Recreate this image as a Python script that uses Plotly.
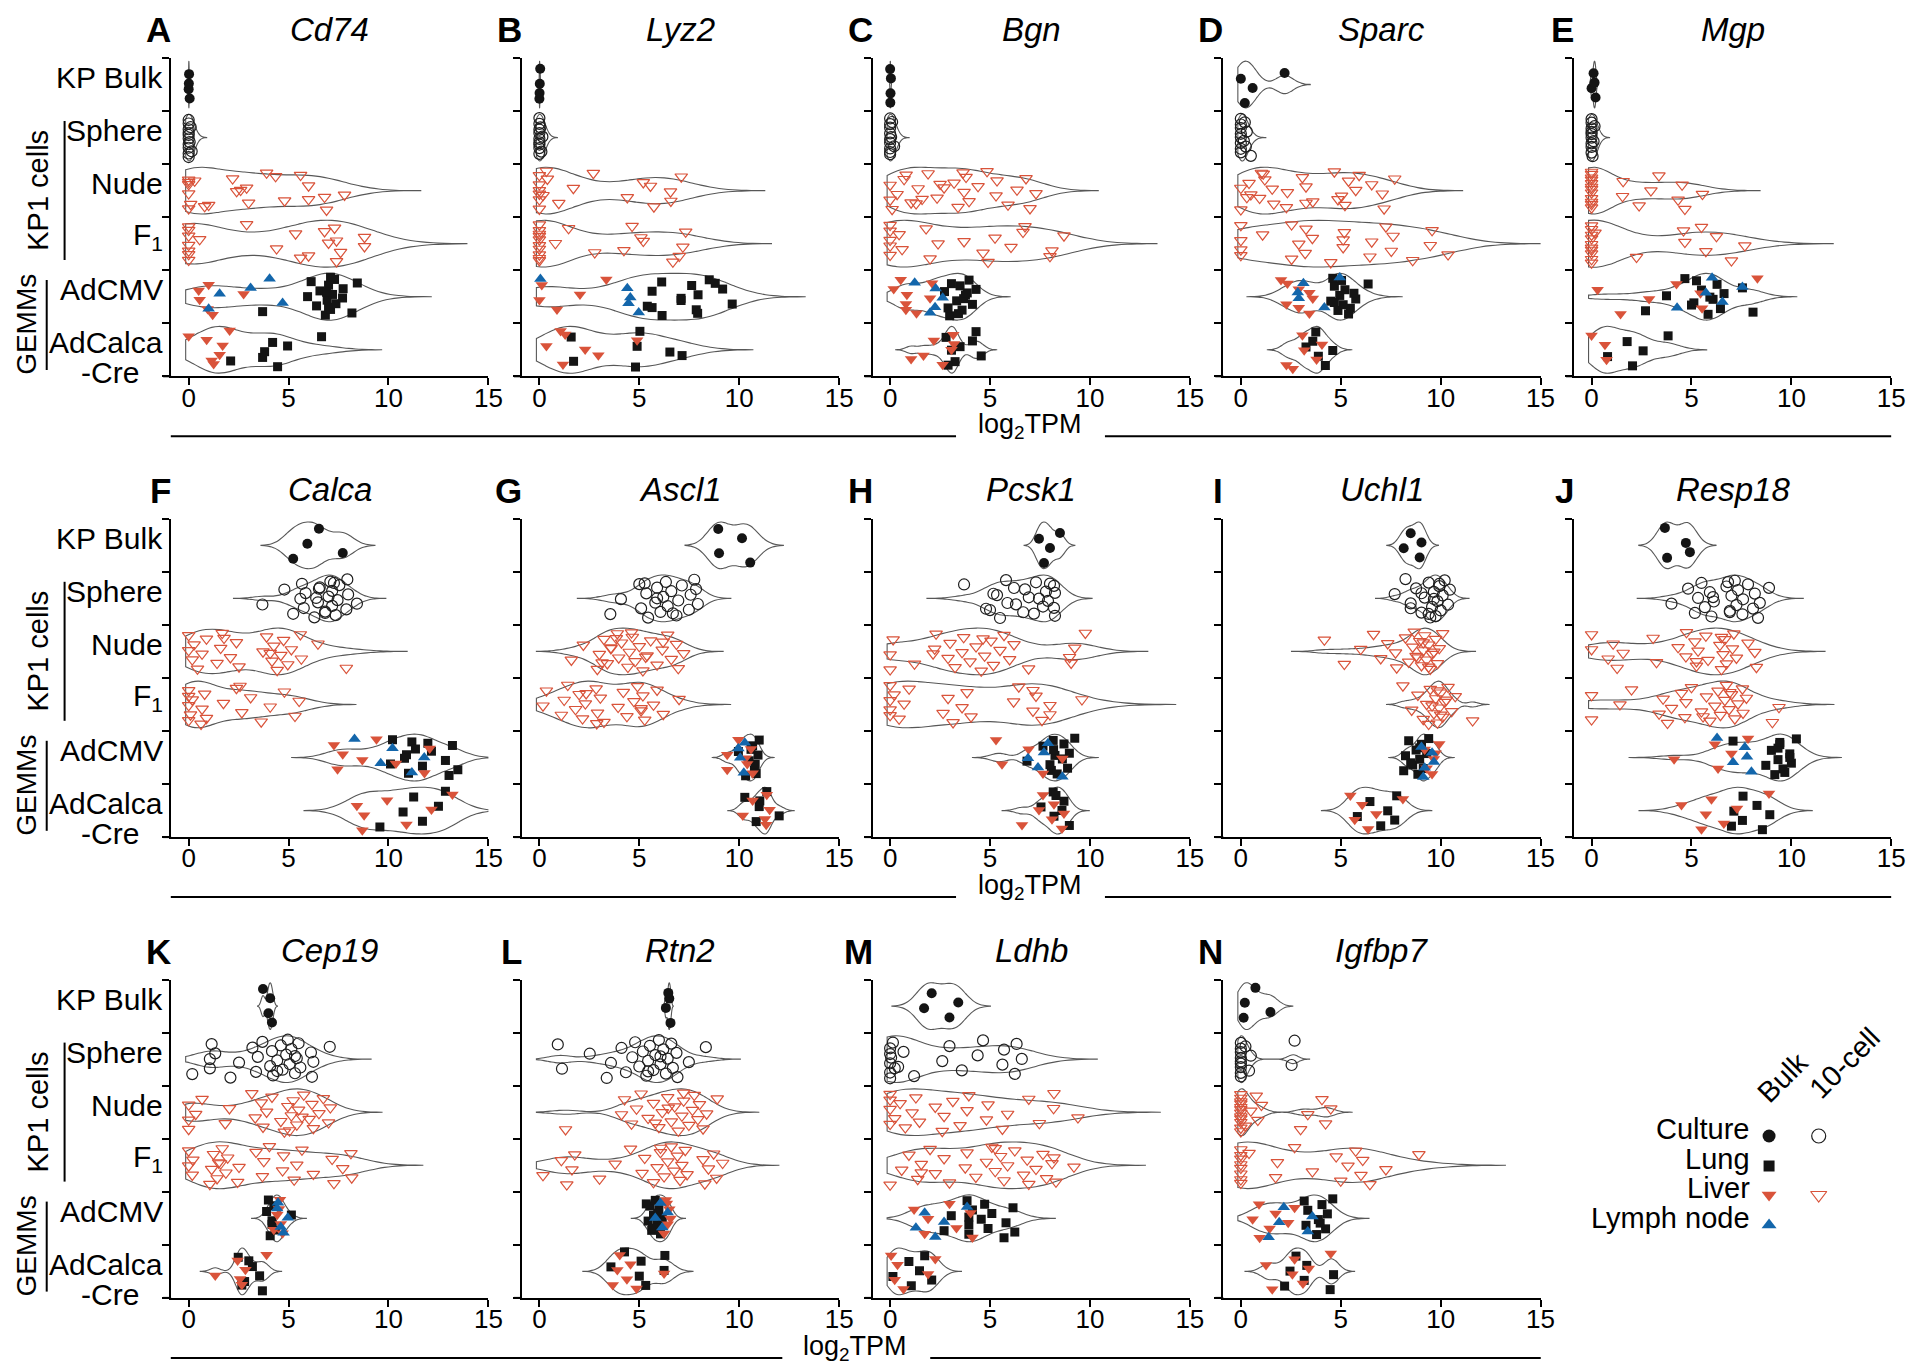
import numpy as np
import plotly.graph_objects as go

W, H = 1920, 1369
FONT = "Liberation Sans, Arial, sans-serif"
RED = "#D9533A"
BLUE = "#1366AB"
BLACK = "#141414"

CATEGORIES = ["KP Bulk", "Sphere", "Nude", "F<sub>1</sub>", "AdCMV", "AdCalca"]
XTICKS = [0, 5, 10, 15]

# ---------------- data (log2 TPM) ----------------
CD74_BULK = [0.0, 0.02, 0.05, 0.01]
CD74_SPHERE = [0, 0, 0, 0, 0, 0, 0, 0, 0, 0, 0.05, 0.1, 0.15]
CD74_NUDE = [0.3, 1.0, 2.6, 5.6, 6.0, 0, 0, 0, 2.2, 3.0, 2.9, 3.9, 6.8, 0, 0.8, 2.4, 4.35, 4.8, 6.0, 6.9, 7.8, 0, 0.1]
CD74_F1 = [0, 0, 0, 0, 0, 0, 0, 0.55, 2.9, 4.4, 5.35, 5.6, 7.0, 7.3, 7.6, 8.8, 7.4, 8.8, 6.8, 6.0, 7.4]
CD74_CMV_LUNG = [3.7, 5.95, 6.13, 6.4, 6.57, 6.84, 6.93, 7.0, 7.1, 7.2, 7.3, 7.37, 7.73, 8.17, 7.7, 8.44, 7.0, 6.9, 7.1]
CD74_CMV_LIVER = [0.5, 1.2, 0.55, 1.0, 0.95, 2.75]
CD74_CMV_LN = [1.0, 1.55, 4.05, 4.7, 3.1]
CD74_CALCA_LUNG = [3.7, 4.2, 4.45, 3.8, 6.65, 2.1, 4.95]
CD74_CALCA_LIVER = [0, 1.15, 1.7, 2.05, 1.55, 0.9, 1.25]

LYZ2_BULK = [0.0, 0.02, 0.04, 0.01]
LYZ2_SPHERE = [0, 0, 0, 0, 0, 0, 0, 0, 0, 0.05, 0.1, 0.15]
LYZ2_NUDE = [0, 0, 0, 0, 0, 0, 0.4, 0.97, 1.7, 2.7, 4.4, 5.2, 5.73, 6.56, 7.1, 6.58, 5.56, 0.35, 0.18]
LYZ2_F1 = [0, 0, 0, 0, 0, 0, 0, 0, 0, 0, 0.8, 1.46, 2.77, 5.08, 6.68, 7.18, 7.32, 7.0, 5.2, 4.64, 4.23]
LYZ2_CMV_LUNG = [6.12, 5.4, 5.64, 6.14, 7.09, 7.62, 7.85, 7.94, 8.5, 9.65, 9.17, 7.92, 7.09, 8.8, 5.64]
LYZ2_CMV_LIVER = [0, 0.12, 0.88, 2.03, 3.35]
LYZ2_CMV_LN = [0.05, 4.46, 4.4, 4.97, 4.55]
LYZ2_CALCA_LUNG = [4.81, 6.53, 1.59, 1.71, 4.89, 5.03, 7.14]
LYZ2_CALCA_LIVER = [0.35, 1.06, 2.95, 4.89, 1.18, 2.29, 1.29]

BGN_BULK = [0.0, 0.02, 0.04, 0.01]
BGN_SPHERE = [0, 0, 0, 0, 0, 0, 0, 0, 0, 0.05, 0.1, 0.2]
BGN_NUDE = [0, 0, 0.1, 0.35, 0.7, 1.3, 1.4, 1.9, 2.35, 3.2, 3.4, 3.7, 3.8, 3.95, 4.4, 4.85, 5.3, 5.35, 5.9, 6.35, 0.8, 1.6, 2.5, 7.0, 7.3, 6.8, 1.05, 2.7, 3.65]
BGN_F1 = [0, 0, 0, 0, 0, 0.6, 0.45, 2.0, 2.4, 1.8, 4.65, 5.25, 4.9, 6.05, 6.65, 8.0, 3.7, 6.75, 8.1, 8.7]
BGN_CMV_LUNG = [2.72, 2.98, 3.33, 3.5, 3.6, 3.77, 3.95, 4.12, 4.3, 3.42, 3.68, 3.07, 2.9, 3.86]
BGN_CMV_LIVER = [0.79, 0.84, 0.53, 0.79, 0.18, 1.32, 2.0, 2.1]
BGN_CMV_LN = [2.28, 2.0, 2.63, 1.23, 2.25]
BGN_CALCA_LUNG = [2.8, 3.25, 3.5, 4.3, 4.56, 4.12, 2.9, 3.07]
BGN_CALCA_LIVER = [1.67, 2.19, 2.63, 3.07, 3.16, 1.05, 3.2]

SPARC_BULK = [0, 0.2, 0.59, 2.19]
SPARC_SPHERE = [0, 0, 0, 0, 0, 0, 0, 0, 0.2, 0.25, 0.3, 0.5, 0.15]
SPARC_NUDE = [0, 0.5, 1.2, 1.65, 1.57, 1.12, 0.94, 0.41, 2.28, 2.33, 3.08, 3.6, 3.26, 4.68, 5.04, 5.39, 5.21, 5.75, 5.92, 4.86, 6.55, 7.17, 7.08, 7.7, 3.26, 0, 1.03, 0.3]
SPARC_F1 = [0, 0, 0, 0, 1.09, 2.54, 2.9, 3.26, 3.22, 3.58, 4.5, 5.12, 5.18, 6.46, 6.55, 7.26, 7.53, 7.62, 8.6, 9.48, 9.57, 10.37, 5.12, 2.54]
SPARC_CMV_LUNG = [4.5, 4.68, 4.86, 4.95, 5.04, 5.12, 5.21, 5.39, 5.75, 6.37, 5.48, 5.66, 4.6, 4.68]
SPARC_CMV_LIVER = [2.01, 2.28, 2.9, 3.43, 3.6, 2.33, 2.9, 3.43]
SPARC_CMV_LN = [2.9, 3.13, 4.18, 2.85, 4.95]
SPARC_CALCA_LUNG = [3.26, 3.75, 3.88, 3.6, 4.23, 4.6]
SPARC_CALCA_LIVER = [2.28, 3.17, 3.08, 3.79, 4.06, 2.6]

MGP_BULK = [0, 0.1, 0.2, 0.15]
MGP_SPHERE = [0, 0, 0, 0, 0, 0, 0, 0, 0, 0.05, 0.1, 0.15]
MGP_NUDE = [0, 0, 0, 0, 0, 0, 0, 0, 0, 0, 0, 0, 1.55, 1.58, 2.38, 2.97, 3.37, 4.33, 4.53, 4.67, 5.55]
MGP_F1 = [0, 0, 0, 0, 0, 0, 0, 0, 0, 0, 0.17, 2.25, 4.67, 5.5, 5.72, 6.25, 7.0, 7.67, 4.6]
MGP_CMV_LUNG = [2.7, 3.75, 5.25, 5.0, 5.5, 5.83, 6.08, 6.28, 6.45, 6.63, 4.67, 5.12, 7.55, 8.08, 5.92]
MGP_CMV_LIVER = [0.3, 1.45, 2.88, 4.25, 5.53, 5.45, 8.3]
MGP_CMV_LN = [4.28, 5.72, 6.03, 6.55, 7.55]
MGP_CALCA_LUNG = [0.8, 1.78, 2.05, 2.58, 3.83]
MGP_CALCA_LIVER = [0, 0.75, 0.67]

CALCA_BULK = [5.23, 5.94, 6.52, 7.71]
CALCA_SPHERE = [3.69, 4.79, 5.23, 5.59, 5.67, 5.76, 5.85, 6.29, 6.47, 6.56, 6.83, 7.0, 7.09, 7.18, 7.18, 7.36, 7.45, 7.54, 7.89, 7.98, 7.94, 8.42, 6.52, 6.83, 6.38, 7.27]
CALCA_NUDE = [0, 0, 0.18, 0.27, 0.44, 0.67, 0.89, 1.42, 1.6, 1.68, 2.09, 2.39, 2.52, 3.72, 3.9, 4.17, 4.26, 4.43, 4.61, 4.75, 4.96, 5.14, 5.59, 5.64, 6.47, 7.89, 4.08, 1.77]
CALCA_F1 = [0, 0, 0, 0, 0.09, 0.18, 0.62, 0.67, 0.8, 0.89, 1.74, 2.39, 2.66, 3.1, 3.63, 4.08, 4.79, 5.32, 5.53, 2.57]
CALCA_CMV_LUNG = [11.17, 11.7, 12.15, 13.03, 12.85, 13.2, 13.47, 10.9, 10.2, 10.1, 11.35, 11.0, 10.8, 11.97]
CALCA_CMV_LIVER = [8.69, 7.27, 7.45, 7.71, 9.4, 10.37, 12.06, 11.8]
CALCA_CMV_LN = [8.3, 9.61, 10.2, 11.17, 11.79]
CALCA_CALCA_LUNG = [9.57, 10.73, 11.26, 11.7, 12.5, 12.85]
CALCA_CALCA_LIVER = [8.42, 8.69, 8.78, 9.93, 10.9, 12.15, 13.2]

ASCL1_BULK = [8.95, 8.99, 10.14, 10.55]
ASCL1_SPHERE = [3.55, 4.08, 5.0, 5.09, 5.35, 5.44, 5.8, 5.89, 6.06, 6.2, 6.33, 6.42, 6.6, 6.86, 6.95, 7.13, 7.48, 7.57, 7.75, 7.93, 7.84, 6.68, 5.89, 5.27]
ASCL1_NUDE = [1.6, 2.2, 2.9, 3.0, 3.23, 3.4, 3.58, 3.9, 3.97, 4.11, 4.43, 4.5, 4.65, 4.79, 5.0, 5.18, 5.39, 5.57, 5.89, 6.15, 6.42, 6.6, 6.86, 6.95, 7.22, 3.85, 3.14, 3.58, 4.61, 5.32, 6.19]
ASCL1_F1 = [0.18, 0.35, 1.1, 1.24, 1.42, 1.81, 1.99, 2.16, 2.3, 2.84, 2.91, 3.05, 3.23, 3.94, 4.2, 4.38, 4.73, 4.91, 5.09, 5.18, 5.27, 5.71, 5.89, 6.2, 6.99, 2.87, 5.09, 2.34]
ASCL1_CMV_LUNG = [9.96, 10.32, 10.5, 10.67, 10.76, 10.94, 11.0, 10.8, 10.59, 10.85]
ASCL1_CMV_LIVER = [9.4, 9.4, 9.96, 10.4, 10.59, 10.67, 10.32]
ASCL1_CMV_LN = [9.96, 10.23, 10.05, 10.28]
ASCL1_CALCA_LUNG = [10.28, 10.85, 11.0, 11.38, 12.0, 11.03]
ASCL1_CALCA_LIVER = [10.18, 10.67, 11.35, 11.52, 11.38, 11.29]

PCSK1_BULK = [7.45, 7.7, 8.0, 8.5]
PCSK1_SPHERE = [3.7, 4.8, 5.17, 5.5, 5.87, 6.2, 6.66, 6.94, 7.3, 7.65, 7.8, 8.25, 7.9, 8.2, 5.0, 5.35, 5.8, 6.3, 6.75, 7.2, 7.45, 8.0, 8.2, 8.25]
PCSK1_NUDE = [0, 0, 0.15, 1.22, 2.23, 2.3, 2.9, 3.0, 3.25, 3.6, 3.68, 4.0, 4.3, 4.56, 4.73, 5.05, 5.17, 5.5, 5.7, 5.98, 6.2, 6.93, 2.15, 4.65, 9.06, 9.24, 9.77, 8.98]
PCSK1_F1 = [0, 0, 0, 0, 0.2, 0.45, 0.7, 0.95, 2.65, 2.9, 3.15, 3.6, 3.85, 4.05, 6.18, 6.44, 7.15, 7.3, 7.6, 8.0, 7.15, 8.0, 9.6]
PCSK1_CMV_LUNG = [6.85, 7.65, 8.07, 8.25, 8.16, 8.0, 8.18, 8.36, 8.62, 8.7, 8.88, 8.97, 9.24]
PCSK1_CMV_LIVER = [5.3, 5.6, 6.93, 7.65, 8.62]
PCSK1_CMV_LN = [6.9, 7.9, 7.4, 7.7, 8.62]
PCSK1_CALCA_LUNG = [7.55, 8.16, 8.2, 8.7, 8.97, 8.6, 8.3]
PCSK1_CALCA_LIVER = [6.6, 7.45, 7.65, 8.1, 8.2, 8.6, 8.7]

UCHL1_BULK = [8.15, 8.5, 8.95, 9.04]
UCHL1_SPHERE = [7.7, 8.24, 8.5, 8.77, 9.04, 9.2, 9.4, 9.57, 9.66, 9.75, 9.84, 9.93, 10.0, 10.1, 10.2, 10.37, 10.46, 9.4, 9.66, 9.93, 8.5, 9.04, 9.48]
UCHL1_NUDE = [4.18, 5.18, 6.0, 6.64, 7.0, 7.35, 7.8, 7.74, 8.24, 8.4, 8.6, 8.68, 8.77, 8.95, 9.04, 9.13, 9.2, 9.3, 9.4, 9.48, 9.57, 9.75, 9.84, 9.93, 10.1, 8.86, 9.13, 9.4, 9.66]
UCHL1_F1 = [8.11, 8.55, 8.86, 9.13, 9.3, 9.48, 9.66, 9.75, 9.84, 9.93, 10.0, 10.1, 10.2, 10.37, 10.55, 10.73, 11.6, 9.57, 9.84, 10.0, 10.28, 9.4]
UCHL1_CMV_LUNG = [8.15, 8.24, 8.4, 8.6, 8.77, 8.86, 8.95, 9.04, 9.13, 9.3, 9.4, 8.5, 8.95]
UCHL1_CMV_LIVER = [9.2, 9.57, 9.66, 9.93, 9.3, 9.75]
UCHL1_CMV_LN = [9.2, 9.57, 9.13, 9.66, 9.04]
UCHL1_CALCA_LUNG = [5.83, 6.46, 7.0, 7.35, 7.8, 7.7]
UCHL1_CALCA_LIVER = [5.48, 5.7, 6.07, 6.37, 6.78, 8.11]

RESP18_BULK = [3.78, 4.72, 3.67, 4.92]
RESP18_SPHERE = [4.0, 4.83, 5.17, 5.33, 5.5, 5.67, 5.92, 6.0, 6.12, 6.75, 6.92, 7.0, 7.17, 7.25, 7.33, 7.55, 7.58, 7.83, 8.08, 8.17, 8.33, 8.42, 8.88, 6.92, 6.08, 6.83]
RESP18_NUDE = [0, 0, 0.83, 1.08, 1.28, 1.58, 3.08, 3.25, 4.33, 4.75, 4.72, 5.17, 5.25, 5.33, 5.72, 5.83, 6.42, 6.5, 6.58, 6.67, 6.75, 7.05, 7.12, 7.25, 7.83, 8.25, 8.17, 6.5, 5.25]
RESP18_F1 = [0, 0, 1.42, 2.0, 3.38, 3.58, 3.8, 4.0, 4.5, 4.67, 4.72, 5.0, 5.5, 5.75, 5.92, 6.17, 6.33, 6.45, 6.67, 6.75, 6.88, 7.0, 7.17, 7.33, 7.55, 7.58, 7.75, 9.05, 9.38, 6.92, 5.58]
RESP18_CMV_LUNG = [7.08, 8.72, 9.0, 9.17, 9.33, 9.42, 9.58, 9.92, 10.25, 10.0, 9.33, 9.67, 9.92, 9.42]
RESP18_CMV_LIVER = [4.13, 6.17, 6.33, 7.0, 7.83]
RESP18_CMV_LN = [6.28, 7.08, 7.67, 8.0, 7.78]
RESP18_CALCA_LUNG = [7.0, 7.12, 7.58, 7.55, 8.28, 8.55, 8.92]
RESP18_CALCA_LIVER = [4.5, 5.5, 5.72, 6.0, 6.62, 7.28, 8.88]

CEP19_BULK = [3.72, 3.99, 4.08, 4.17]
CEP19_SPHERE = [0.18, 1.06, 1.15, 1.06, 1.33, 2.09, 2.52, 3.19, 3.37, 3.46, 3.69, 4.08, 4.17, 4.22, 4.43, 4.61, 4.7, 4.88, 4.96, 5.05, 5.14, 5.32, 5.41, 5.5, 5.59, 6.12, 6.17, 6.24, 7.06, 4.43, 5.32]
CEP19_NUDE = [0, 0, 0, 0.35, 0.67, 1.83, 2.04, 3.16, 3.33, 3.63, 3.72, 3.9, 4.17, 4.61, 4.96, 5.05, 5.14, 5.23, 5.41, 5.5, 5.76, 6.03, 6.17, 6.24, 6.52, 6.74, 7.0, 7.09, 4.79, 5.67]
CEP19_F1 = [0, 0, 0.18, 0.21, 1.06, 1.15, 1.24, 1.42, 1.6, 1.68, 1.86, 1.95, 2.45, 2.52, 3.37, 3.69, 3.76, 4.04, 4.7, 4.75, 5.28, 5.41, 5.67, 6.24, 7.18, 7.27, 7.71, 8.12, 8.16, 1.5]
CEP19_CMV_LUNG = [3.9, 4.08, 4.17, 4.26, 4.34, 5.14, 3.99, 4.17]
CEP19_CMV_LIVER = [4.26, 4.43, 4.57, 4.61, 4.52, 4.7]
CEP19_CMV_LN = [4.43, 4.75, 4.96, 4.47, 4.61]
CEP19_CALCA_LUNG = [2.48, 2.8, 3.19, 3.69, 3.55, 3.01, 2.66]
CEP19_CALCA_LIVER = [1.33, 2.45, 2.66, 2.84, 3.9, 2.57]

RTN2_BULK = [6.5, 6.56, 6.33, 6.45]
RTN2_SPHERE = [0.92, 1.13, 2.52, 3.37, 3.58, 4.11, 4.33, 4.65, 4.79, 5.0, 5.18, 5.35, 5.44, 5.53, 5.71, 5.8, 5.98, 6.06, 6.2, 6.33, 6.42, 6.6, 6.68, 6.86, 6.91, 7.48, 8.33, 5.44, 6.06]
RTN2_NUDE = [1.31, 4.11, 4.26, 4.61, 4.86, 5.09, 5.44, 5.71, 5.98, 6.15, 6.42, 6.6, 6.77, 6.95, 7.13, 7.22, 7.48, 7.66, 7.75, 7.93, 8.01, 8.19, 8.37, 8.9, 5.8, 6.45, 7.22]
RTN2_F1 = [0.18, 1.1, 1.37, 1.63, 1.77, 3.01, 3.79, 4.56, 5.14, 5.27, 5.71, 5.89, 6.06, 6.24, 6.42, 6.6, 6.74, 6.91, 7.04, 7.13, 7.3, 7.39, 8.19, 8.28, 8.46, 8.72, 8.87, 9.17, 6.06]
RTN2_CMV_LUNG = [5.44, 5.53, 5.62, 5.71, 5.8, 5.89, 5.98, 6.06, 6.15, 5.35, 5.66, 5.92]
RTN2_CMV_LIVER = [6.33, 6.42, 6.5, 6.24, 6.56, 6.38]
RTN2_CMV_LN = [5.8, 6.06, 6.15, 6.42]
RTN2_CALCA_LUNG = [3.58, 4.26, 5.0, 5.09, 5.32, 6.24, 6.28]
RTN2_CALCA_LIVER = [3.67, 3.9, 4.02, 4.38, 4.56, 4.86, 6.24]

LDHB_BULK = [1.7, 2.08, 2.97, 3.41]
LDHB_SPHERE = [0, 0, 0, 0, 0, 0.05, 0.14, 0.4, 0.67, 1.2, 2.61, 2.97, 3.59, 4.38, 4.65, 5.62, 5.7, 6.24, 6.59, 6.33, 0.23]
LDHB_NUDE = [0, 0, 0, 0, 0.23, 0.5, 0.76, 1.1, 1.29, 1.47, 2.26, 2.61, 2.7, 3.14, 3.5, 3.85, 3.94, 4.82, 4.9, 5.62, 5.88, 6.94, 7.47, 8.18, 8.2, 9.4]
LDHB_F1 = [0, 0.58, 0.94, 1.38, 1.56, 2.0, 2.26, 2.7, 2.97, 3.76, 3.85, 4.29, 4.82, 5.09, 5.26, 5.53, 5.7, 5.88, 6.24, 6.68, 6.86, 6.94, 7.3, 7.65, 7.83, 8.1, 5.26, 1.56, 8.2, 8.3, 9.2]
LDHB_CMV_LUNG = [2.7, 3.06, 3.85, 3.94, 4.12, 3.94, 4.56, 4.73, 4.9, 5.09, 5.7, 5.8, 6.15, 6.24, 3.94]
LDHB_CMV_LIVER = [1.2, 1.73, 1.9, 2.97, 3.32, 4.03, 4.12]
LDHB_CMV_LN = [1.29, 1.73, 2.26, 2.7, 3.85]
LDHB_CALCA_LUNG = [0.14, 0.94, 1.06, 1.47, 1.73, 2.08]
LDHB_CALCA_LIVER = [0.05, 0.23, 0.37, 0.67, 1.9, 2.26]

IGFBP7_BULK = [0.14, 0.2, 0.73, 1.48]
IGFBP7_SPHERE = [0, 0, 0, 0, 0, 0, 0, 0, 0, 0.23, 0.41, 0.5, 2.69, 2.54]
IGFBP7_NUDE = [0, 0, 0, 0, 0, 0, 0, 0, 0, 0, 0, 0, 0.23, 0.5, 0.77, 0.85, 1.03, 2.99, 3.35, 4.06, 4.24, 4.5]
IGFBP7_F1 = [0, 0, 0, 0, 0, 0, 0, 0, 0.41, 1.74, 1.83, 2.69, 3.58, 4.77, 5.0, 5.36, 5.75, 6.01, 6.1, 6.46, 7.26, 8.91]
IGFBP7_CMV_LUNG = [3.17, 3.26, 3.35, 3.79, 3.88, 4.06, 4.24, 4.33, 4.6, 3.97]
IGFBP7_CMV_LIVER = [0.59, 0.91, 1.44, 1.74, 0.94, 2.37, 2.69]
IGFBP7_CMV_LN = [1.39, 1.92, 2.15, 3.35, 3.58]
IGFBP7_CALCA_LUNG = [2.19, 2.46, 2.76, 3.17, 3.3, 4.47, 4.64]
IGFBP7_CALCA_LIVER = [1.26, 1.57, 2.58, 2.69, 3.11, 3.4, 4.5]

PANELS = [
    ("A", "Cd74", [CD74_BULK, CD74_SPHERE, CD74_NUDE, CD74_F1, CD74_CMV_LUNG, CD74_CMV_LIVER, CD74_CMV_LN, CD74_CALCA_LUNG, CD74_CALCA_LIVER]),
    ("B", "Lyz2", [LYZ2_BULK, LYZ2_SPHERE, LYZ2_NUDE, LYZ2_F1, LYZ2_CMV_LUNG, LYZ2_CMV_LIVER, LYZ2_CMV_LN, LYZ2_CALCA_LUNG, LYZ2_CALCA_LIVER]),
    ("C", "Bgn", [BGN_BULK, BGN_SPHERE, BGN_NUDE, BGN_F1, BGN_CMV_LUNG, BGN_CMV_LIVER, BGN_CMV_LN, BGN_CALCA_LUNG, BGN_CALCA_LIVER]),
    ("D", "Sparc", [SPARC_BULK, SPARC_SPHERE, SPARC_NUDE, SPARC_F1, SPARC_CMV_LUNG, SPARC_CMV_LIVER, SPARC_CMV_LN, SPARC_CALCA_LUNG, SPARC_CALCA_LIVER]),
    ("E", "Mgp", [MGP_BULK, MGP_SPHERE, MGP_NUDE, MGP_F1, MGP_CMV_LUNG, MGP_CMV_LIVER, MGP_CMV_LN, MGP_CALCA_LUNG, MGP_CALCA_LIVER]),
    ("F", "Calca", [CALCA_BULK, CALCA_SPHERE, CALCA_NUDE, CALCA_F1, CALCA_CMV_LUNG, CALCA_CMV_LIVER, CALCA_CMV_LN, CALCA_CALCA_LUNG, CALCA_CALCA_LIVER]),
    ("G", "Ascl1", [ASCL1_BULK, ASCL1_SPHERE, ASCL1_NUDE, ASCL1_F1, ASCL1_CMV_LUNG, ASCL1_CMV_LIVER, ASCL1_CMV_LN, ASCL1_CALCA_LUNG, ASCL1_CALCA_LIVER]),
    ("H", "Pcsk1", [PCSK1_BULK, PCSK1_SPHERE, PCSK1_NUDE, PCSK1_F1, PCSK1_CMV_LUNG, PCSK1_CMV_LIVER, PCSK1_CMV_LN, PCSK1_CALCA_LUNG, PCSK1_CALCA_LIVER]),
    ("I", "Uchl1", [UCHL1_BULK, UCHL1_SPHERE, UCHL1_NUDE, UCHL1_F1, UCHL1_CMV_LUNG, UCHL1_CMV_LIVER, UCHL1_CMV_LN, UCHL1_CALCA_LUNG, UCHL1_CALCA_LIVER]),
    ("J", "Resp18", [RESP18_BULK, RESP18_SPHERE, RESP18_NUDE, RESP18_F1, RESP18_CMV_LUNG, RESP18_CMV_LIVER, RESP18_CMV_LN, RESP18_CALCA_LUNG, RESP18_CALCA_LIVER]),
    ("K", "Cep19", [CEP19_BULK, CEP19_SPHERE, CEP19_NUDE, CEP19_F1, CEP19_CMV_LUNG, CEP19_CMV_LIVER, CEP19_CMV_LN, CEP19_CALCA_LUNG, CEP19_CALCA_LIVER]),
    ("L", "Rtn2", [RTN2_BULK, RTN2_SPHERE, RTN2_NUDE, RTN2_F1, RTN2_CMV_LUNG, RTN2_CMV_LIVER, RTN2_CMV_LN, RTN2_CALCA_LUNG, RTN2_CALCA_LIVER]),
    ("M", "Ldhb", [LDHB_BULK, LDHB_SPHERE, LDHB_NUDE, LDHB_F1, LDHB_CMV_LUNG, LDHB_CMV_LIVER, LDHB_CMV_LN, LDHB_CALCA_LUNG, LDHB_CALCA_LIVER]),
    ("N", "Igfbp7", [IGFBP7_BULK, IGFBP7_SPHERE, IGFBP7_NUDE, IGFBP7_F1, IGFBP7_CMV_LUNG, IGFBP7_CMV_LIVER, IGFBP7_CMV_LN, IGFBP7_CALCA_LUNG, IGFBP7_CALCA_LIVER]),
]

# ---------------- styles ----------------
M_CULT_BULK = dict(symbol="circle", size=10, color=BLACK, line=dict(width=0))
M_CULT_10 = dict(symbol="circle-open", size=11, color="#1e1e1e", line=dict(width=1.2))
M_LIVER_10 = dict(symbol="triangle-down-open", size=11, color=RED, line=dict(width=1.2))
M_LUNG = dict(symbol="square", size=9, color=BLACK, line=dict(width=0))
M_LIVER = dict(symbol="triangle-down", size=11, color=RED, line=dict(width=0))
M_LN = dict(symbol="triangle-up", size=11, color=BLUE, line=dict(width=0))

# ---------------- geometry (pixels) ----------------
X0_PX = [182 + 353.3 * i for i in range(5)]
UNIT = 20.13
XMIN = -0.88
ROW_TOP = [50 + 460.8 * r for r in range(3)]
PLOT_H = 318.3
CAT_H = PLOT_H / 6
TDY = 7  # annotation boxes sit a little low: lift them by this many px


def px(x):
    return x / W


def py(y):
    return 1 - y / H


def ty(y):
    return py(y - TDY)


def nrd0(v):
    v = np.asarray(v, float)
    sd = v.std(ddof=1)
    iqr = np.percentile(v, 75) - np.percentile(v, 25)
    lo = min(sd, iqr / 1.34)
    if lo <= 0:
        lo = sd if sd > 0 else 1.0
    return 0.9 * lo * len(v) ** -0.2


def jitter(n, seed):
    return [(((k + 1) * 0.6180339887 + seed * 0.2718) % 1.0) * 0.74 - 0.37 for k in range(n)]


fig = go.Figure()
layout = {}
shapes = []
annotations = []

for idx, (letter, gene, data) in enumerate(PANELS):
    r, c = divmod(idx, 5)
    n = idx + 1
    xa = "x" if n == 1 else f"x{n}"
    ya = "y" if n == 1 else f"y{n}"
    left = X0_PX[c] + XMIN * UNIT
    right = X0_PX[c] + 15 * UNIT
    top = ROW_TOP[r]
    bot = top + PLOT_H
    layout["xaxis" if n == 1 else f"xaxis{n}"] = dict(
        domain=[px(left), px(right)], anchor=ya, range=[XMIN, 15.001],
        tickvals=XTICKS, ticktext=[str(t) for t in XTICKS], ticks="outside", ticklen=7, tickwidth=2,
        tickcolor="black", showline=True, linewidth=2, linecolor="black", showgrid=False,
        zeroline=False, ticklabelstandoff=-10,
        tickfont=dict(size=26, color="black", family=FONT), fixedrange=True)
    layout["yaxis" if n == 1 else f"yaxis{n}"] = dict(
        domain=[py(bot), py(top)], anchor=xa, range=[5.5, -0.5], type="linear",
        tickvals=[-0.5 + k for k in range(7)], showticklabels=False, ticks="outside", ticklen=7,
        tickwidth=2, tickcolor="black", showline=True, linewidth=2, linecolor="black",
        showgrid=False, zeroline=False, fixedrange=True)
    shapes.append(dict(type="line", xref="paper", yref="paper", x0=px(left - 8), x1=px(left),
                       y0=py(bot), y1=py(bot), line=dict(color="black", width=2)))

    bulk, sphere, nude, f1, cmv_lung, cmv_liver, cmv_ln, calca_lung, calca_liver = data
    groups = [
        (0, bulk, [(bulk, M_CULT_BULK)]),
        (1, sphere, [(sphere, M_CULT_10)]),
        (2, nude, [(nude, M_LIVER_10)]),
        (3, f1, [(f1, M_LIVER_10)]),
        (4, cmv_lung + cmv_liver + cmv_ln, [(cmv_lung, M_LUNG), (cmv_liver, M_LIVER), (cmv_ln, M_LN)]),
        (5, calca_lung + calca_liver, [(calca_lung, M_LUNG), (calca_liver, M_LIVER)]),
    ]
    for cat, allv, parts in groups:
        bw = nrd0(allv)
        if len(allv) >= 8:
            bw = max(bw, 0.25)
        lo = max(min(allv) - 3 * bw, -0.15)
        hi = max(allv) + 3 * bw
        fig.add_trace(go.Violin(
            x=allv, y0=cat, orientation="h", xaxis=xa, yaxis=ya, name=f"{gene}-{cat}",
            bandwidth=bw, spanmode="manual", span=[lo, hi], scalemode="width", width=0.88,
            points=False, line=dict(color="#575757", width=1.1), fillcolor="rgba(0,0,0,0)",
            box_visible=False, meanline_visible=False, hoverinfo="skip", showlegend=False))
        for gi, (vals, mk) in enumerate(parts):
            if not vals:
                continue
            offs = jitter(len(vals), cat * 3 + gi * 1.7 + idx * 0.9)
            fig.add_trace(go.Scatter(
                x=vals, y=[cat + o for o in offs], mode="markers", xaxis=xa, yaxis=ya,
                marker=mk, hoverinfo="skip", showlegend=False, cliponaxis=False))

    annotations.append(dict(xref="paper", yref="paper", x=px(left + 1), y=py(top - 28),
                            text=f"<b>{letter}</b>", showarrow=False, xanchor="right", yanchor="middle",
                            borderpad=0, font=dict(size=35, color="black", family=FONT)))
    annotations.append(dict(xref="paper", yref="paper", x=px((left + right) / 2), y=ty(top - 22),
                            text=f"<i>{gene}</i>", showarrow=False, xanchor="center", yanchor="middle",
                            borderpad=0, font=dict(size=33, color="black", family=FONT)))

    if c == 0:
        for k, lab in enumerate(CATEGORIES):
            yc = top + (k + 0.5) * CAT_H
            annotations.append(dict(xref="paper", yref="paper", x=px(158), y=ty(yc), text=lab,
                                    showarrow=False, xanchor="right", yanchor="middle",
                                    font=dict(size=30, color="black", family=FONT)))
        annotations.append(dict(xref="paper", yref="paper", x=px(103), y=ty(top + 5.5 * CAT_H + 30),
                                text="-Cre", showarrow=False, xanchor="center", yanchor="middle",
                                font=dict(size=30, color="black", family=FONT)))
        annotations.append(dict(xref="paper", yref="paper", x=px(37 - TDY), y=py(top + 132),
                                text="KP1 cells", textangle=-90, showarrow=False, xanchor="center",
                                yanchor="middle", font=dict(size=29, color="black", family=FONT)))
        shapes.append(dict(type="line", xref="paper", yref="paper", x0=px(57), x1=px(57),
                           y0=py(top + 63), y1=py(top + 202), line=dict(color="black", width=2)))
        annotations.append(dict(xref="paper", yref="paper", x=px(19), y=py(top + 266),
                                text="GEMMs", textangle=-90, showarrow=False, xanchor="center",
                                yanchor="middle", borderpad=0, font=dict(size=28, color="black", family=FONT)))
        shapes.append(dict(type="line", xref="paper", yref="paper", x0=px(39), x1=px(39),
                           y0=py(top + 222), y1=py(top + 312), line=dict(color="black", width=2)))

ROW_RULES = [(164, 955, 1105, 1897, 1030), (164, 955, 1105, 1897, 1030), (164, 780, 929, 1544, 853)]
for r, (a0, a1, b0, b1, tx) in enumerate(ROW_RULES):
    ly = ROW_TOP[r] + PLOT_H + 60
    for s0, s1 in [(a0, a1), (b0, b1)]:
        shapes.append(dict(type="line", xref="paper", yref="paper", x0=px(s0), x1=px(s1),
                           y0=py(ly), y1=py(ly), line=dict(color="black", width=2)))
    annotations.append(dict(xref="paper", yref="paper", x=px(tx), y=ty(ly - 3),
                            text="log<sub>2</sub>TPM", showarrow=False, xanchor="center",
                            yanchor="middle", font=dict(size=27, color="black", family=FONT)))

# ---------------- custom legend ----------------
LEG_ROWS = ["Culture", "Lung", "Liver", "Lymph node"]
LEG_Y = [1128, 1158, 1187, 1217]
BULK_X, CELL_X = 1774, 1824
leg_l, leg_r, leg_t, leg_b = 1740, 1860, 1100, 1240
layout["xaxis15"] = dict(domain=[px(leg_l), px(leg_r)], range=[leg_l, leg_r], visible=False,
                         anchor="y15", fixedrange=True)
layout["yaxis15"] = dict(domain=[py(leg_b), py(leg_t)], range=[leg_b, leg_t], visible=False,
                         anchor="x15", fixedrange=True)
LEG_MARKERS = [
    (BULK_X, LEG_Y[0], dict(M_CULT_BULK, size=13)),
    (CELL_X, LEG_Y[0], dict(M_CULT_10, size=14)),
    (BULK_X, LEG_Y[1], dict(M_LUNG, size=11)),
    (BULK_X, LEG_Y[2], dict(M_LIVER, size=13)),
    (CELL_X, LEG_Y[2], dict(M_LIVER_10, size=14)),
    (BULK_X, LEG_Y[3], dict(M_LN, size=13)),
]
for lx, lyy, mk in LEG_MARKERS:
    fig.add_trace(go.Scatter(x=[lx], y=[lyy], mode="markers", marker=mk, xaxis="x15", yaxis="y15",
                             hoverinfo="skip", showlegend=False, cliponaxis=False))
for lab, lyy in zip(LEG_ROWS, LEG_Y):
    annotations.append(dict(xref="paper", yref="paper", x=px(1756), y=ty(lyy), text=lab, showarrow=False,
                            xanchor="right", yanchor="middle", borderpad=0,
                            font=dict(size=29, color="black", family=FONT)))
annotations.append(dict(xref="paper", yref="paper", x=px(1788), y=ty(1076), text="Bulk", textangle=-45,
                        showarrow=False, xanchor="center", yanchor="middle",
                        font=dict(size=29, color="black", family=FONT)))
annotations.append(dict(xref="paper", yref="paper", x=px(1850), y=ty(1062), text="10-cell", textangle=-45,
                        showarrow=False, xanchor="center", yanchor="middle",
                        font=dict(size=29, color="black", family=FONT)))

fig.update_layout(
    width=W, height=H, margin=dict(l=0, r=0, t=0, b=0),
    paper_bgcolor="white", plot_bgcolor="white", showlegend=False,
    violinmode="overlay", font=dict(family=FONT, color="black"),
    shapes=shapes, annotations=annotations, **layout)

fig.write_html("out.html")
